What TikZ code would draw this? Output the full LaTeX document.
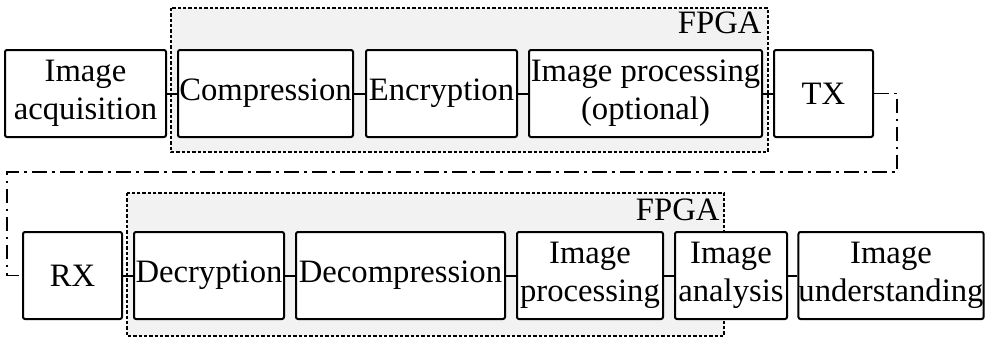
\documentclass[tikz,border=0pt]{standalone}
\usepackage{fontspec}
\setmainfont{Liberation Serif}
\tikzset{
	blk/.style={draw, fill=white, rounded corners=1.5pt, line width=1.5pt,
		minimum height=65.25pt, inner sep=0pt, align=center,
		font=\fontsize{24.5}{28.5}\selectfont},
	bw/.style={minimum width=#1*0.75pt},
	fpga/.style={draw, fill={rgb,255:red,242;green,242;blue,242}, line width=1.1pt,
		dash pattern=on 2.4pt off 1.6pt},
	fpgalabel/.style={anchor=base east, inner sep=0pt, font=\fontsize{24.5}{28.5}\selectfont},
	link/.style={line width=1.5pt},
	channel/.style={line width=1.2pt, dash pattern=on 11pt off 4pt on 2pt off 4pt}}
\tikzset{every picture/.style={line width=0.75pt}}

\begin{document}
\begin{tikzpicture}[x=0.75pt,y=0.75pt,yscale=-1,xscale=1]
	\useasboundingbox (0,0) rectangle (991,340);

	%FPGA regions
	\draw [fpga] (171,8) rectangle (768,152) ;
	\node [fpgalabel] (fpgaA) at (762,33) {FPGA};
	\draw [fpga] (127,193) rectangle (724,336) ;
	\node [fpgalabel] (fpgaB) at (720,220) {FPGA};

	%Transmitter side
	\node [blk, bw=161] (acq) at (85.5,93.5) {Image\\acquisition};
	\node [blk, bw=175] (comp) at (265.5,93.5) {Compression};
	\node [blk, bw=151] (enc) at (441.5,93.5) {Encryption};
	\node [blk, bw=233] (optproc) at (645.5,93.5) {Image processing\\(optional)};
	\node [blk, bw=99] (tx) at (823.5,93.5) {TX};

	%Receiver side
	\node [blk, bw=99] (rx) at (72.5,275.5) {RX};
	\node [blk, bw=150] (decr) at (209,275.5) {Decryption};
	\node [blk, bw=209] (decomp) at (400.5,275.5) {Decompression};
	\node [blk, bw=146] (iproc) at (590,275.5) {Image\\processing};
	\node [blk, bw=112] (ana) at (731,275.5) {Image\\analysis};
	\node [blk, bw=184] (und) at (891,275.5) {Image\\understanding};

	%Straight Lines
	\draw [link] (acq.east) -- (comp.west) ;
	\draw [link] (comp.east) -- (enc.west) ;
	\draw [link] (enc.east) -- (optproc.west) ;
	\draw [link] (optproc.east) -- (tx.west) ;
	\draw [link] (rx.east) -- (decr.west) ;
	\draw [link] (decr.east) -- (decomp.west) ;
	\draw [link] (decomp.east) -- (iproc.west) ;
	\draw [link] (iproc.east) -- (ana.west) ;
	\draw [link] (ana.east) -- (und.west) ;

	%Channel
	\coordinate (turnA) at (897,172) ;
	\coordinate (turnB) at (7,172) ;
	\draw [channel] (tx.east) -| (turnA) -- (turnB) |- (rx.west) ;

\end{tikzpicture}
\end{document}
